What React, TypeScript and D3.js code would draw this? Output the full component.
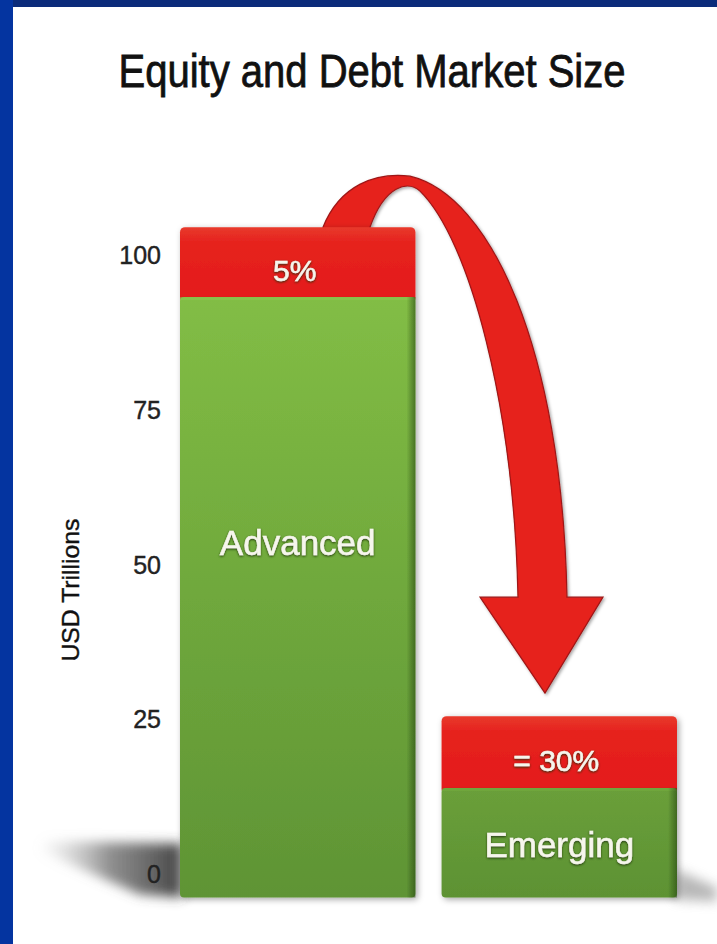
import React from "react";
import * as d3 from "d3";

const categories = ["Advanced", "Emerging"];
const greenTops = [93.2, 13.9];
const totalTops = [104.5, 25.5];
const shareLabels = ["5%", "= 30%"];
const labelValues = [53.7, 4.9];
const yTicks = [0, 25, 50, 75, 100];
const baseValue = -3.8;
const titleText = "Equity and Debt Market Size";
const yAxisTitle = "USD Trillions";

const W = 717;
const H = 944;

export default function App() {
  const y = d3.scaleLinear().domain([0, 100]).range([874, 255]);
  const x = d3.scaleBand<string>().domain(categories).range([180, 677]).paddingInner(0.1);
  const bw = x.bandwidth();
  const font = "'Liberation Sans', Arial, Helvetica, sans-serif";

  const ax = x(categories[0])!;
  const ay = y(totalTops[0]);
  const ex = x(categories[1])!;
  const ey = y(totalTops[1]);

  // arrow (annotation) anchored on the bars
  const p = d3.path();
  const tipY = ey - 23;
  const baseY = tipY - 96;
  p.moveTo(ax + 143, ay + 8);
  p.lineTo(ax + 143, ay);
  p.bezierCurveTo(ax + 160, ay - 42, ax + 195, ay - 55, ax + 230, ay - 51);
  p.bezierCurveTo(ax + 310, ay - 32, ax + 382, ay + 120, ax + 387, baseY);
  p.lineTo(ax + 423, baseY);
  p.lineTo(ax + 365, tipY);
  p.lineTo(ax + 300, baseY);
  p.lineTo(ax + 338, baseY);
  p.bezierCurveTo(ax + 334, ay + 180, ax + 290, ay + 13, ax + 240, ay - 36);
  p.bezierCurveTo(ax + 228, ay - 47, ax + 205, ay - 42, ax + 190, ay);
  p.lineTo(ax + 190, ay + 8);
  p.closePath();

  return (
    <svg width={W} height={H} style={{ position: "absolute", left: 0, top: 0, background: "#fff" }}>
      <defs>
        <linearGradient id="greenA" x1="0" y1="0" x2="0" y2="1">
          <stop offset="0" stopColor="#82bd45" />
          <stop offset="0.5" stopColor="#6fa83c" />
          <stop offset="1" stopColor="#5f9435" />
        </linearGradient>
        <linearGradient id="greenE" x1="0" y1="0" x2="0" y2="1">
          <stop offset="0" stopColor="#6a9f3a" />
          <stop offset="1" stopColor="#5d9233" />
        </linearGradient>
        <linearGradient id="red" x1="0" y1="0" x2="0" y2="1">
          <stop offset="0" stopColor="#e83a2c" />
          <stop offset="0.2" stopColor="#e6221e" />
          <stop offset="0.9" stopColor="#e41c1c" />
          <stop offset="1" stopColor="#c51a18" />
        </linearGradient>
        <linearGradient id="edge" x1="0" y1="0" x2="1" y2="0">
          <stop offset="0" stopColor="#1f3d0c" stopOpacity="0" />
          <stop offset="1" stopColor="#1f3d0c" stopOpacity="0.55" />
        </linearGradient>
        <linearGradient id="shadowL" x1="1" y1="0" x2="0" y2="0">
          <stop offset="0" stopColor="#3a3a3a" stopOpacity="0.95" />
          <stop offset="0.5" stopColor="#6a6a6a" stopOpacity="0.75" />
          <stop offset="1" stopColor="#aaaaaa" stopOpacity="0" />
        </linearGradient>
        <filter id="blur6" x="-50%" y="-50%" width="200%" height="200%">
          <feGaussianBlur stdDeviation="6" />
        </filter>
        <filter id="barShadow" x="-10%" y="-10%" width="125%" height="125%">
          <feDropShadow dx="2" dy="2" stdDeviation="3" floodColor="#000" floodOpacity="0.35" />
        </filter>
        <filter id="txt" x="-10%" y="-20%" width="120%" height="140%">
          <feDropShadow dx="0" dy="1" stdDeviation="1.2" floodColor="#1d3008" floodOpacity="0.95" />
        </filter>
        <filter id="arrowShadow" x="-10%" y="-10%" width="125%" height="125%">
          <feDropShadow dx="1.5" dy="1.5" stdDeviation="1.5" floodColor="#000" floodOpacity="0.35" />
        </filter>
      </defs>

      {/* frame */}
      <rect x={0} y={0} width={W} height={7} fill="#0b2b7a" />
      <rect x={0} y={0} width={13} height={H} fill="#0434a0" />

      {/* title */}
      <text x={372} y={87} textAnchor="middle" fontFamily={font} fontSize={46} fill="#111"
        stroke="#111" strokeWidth={0.8} textLength={507} lengthAdjust="spacingAndGlyphs">{titleText}</text>

      {/* y axis title */}
      <text transform={`translate(79, 590) rotate(-90)`} textAnchor="middle" fontFamily={font}
        fontSize={24} fill="#111" stroke="#111" strokeWidth={0.4} textLength={143}
        lengthAdjust="spacingAndGlyphs">{yAxisTitle}</text>

      {/* floor shadows */}
      <path d={`M${ax + 2},${y(baseValue) - 54} L45,841 L38,850 L140,${y(baseValue) - 3} L${ax + 2},${y(baseValue)} Z`}
        fill="url(#shadowL)" filter="url(#blur6)" />
      <path d={`M${ex + bw - 2},${y(baseValue) - 28} L${W},${y(baseValue) - 10} L${W},${y(baseValue) + 4} L${ex + bw - 2},${y(baseValue) + 2} Z`}
        fill="#888" opacity={0.6} filter="url(#blur6)" />

      {/* y tick labels */}
      {yTicks.map((t) => (
        <text key={t} x={161} y={y(t) + 9} textAnchor="end" fontFamily={font} fontSize={25}
          fill="#222" stroke="#222" strokeWidth={0.4}>
          {t}
        </text>
      ))}

      {/* arrow */}
      <path d={p.toString()} fill="#e6201e" stroke="#9e1815" strokeWidth={1.2} filter="url(#arrowShadow)" />

      {/* bars */}
      {categories.map((c, i) => {
        const x0 = x(c)!;
        const yT = y(totalTops[i]);
        const yG = y(greenTops[i]);
        const yB = y(baseValue);
        return (
          <g key={c} filter="url(#barShadow)">
            <rect x={x0} y={yT} width={bw} height={yG - yT + 6} rx={5} fill="url(#red)" />
            <rect x={x0} y={yG} width={bw} height={yB - yG} rx={4} fill={i === 0 ? "url(#greenA)" : "url(#greenE)"} />
            <rect x={x0} y={yG} width={bw} height={3} fill="#8cc750" opacity={i === 0 ? 0.6 : 0.2} />
            <rect x={x0 + bw - 9} y={yG} width={9} height={yB - yG} fill="url(#edge)" />
          </g>
        );
      })}

      {/* labels */}
      {categories.map((c, i) => {
        const cx = x(c)! + bw / 2;
        const redMid = (y(totalTops[i]) + y(greenTops[i])) / 2;
        return (
          <g key={c + "l"} filter="url(#txt)" fontFamily={font} fill="#f6f6ec" textAnchor="middle"
            stroke="#f6f6ec" strokeWidth={0.5}>
            <text x={cx - 3} y={redMid + 19} fontSize={30}>{shareLabels[i]}</text>
            <text x={cx} y={y(labelValues[i]) + 13} fontSize={35}>{c}</text>
          </g>
        );
      })}
    </svg>
  );
}
